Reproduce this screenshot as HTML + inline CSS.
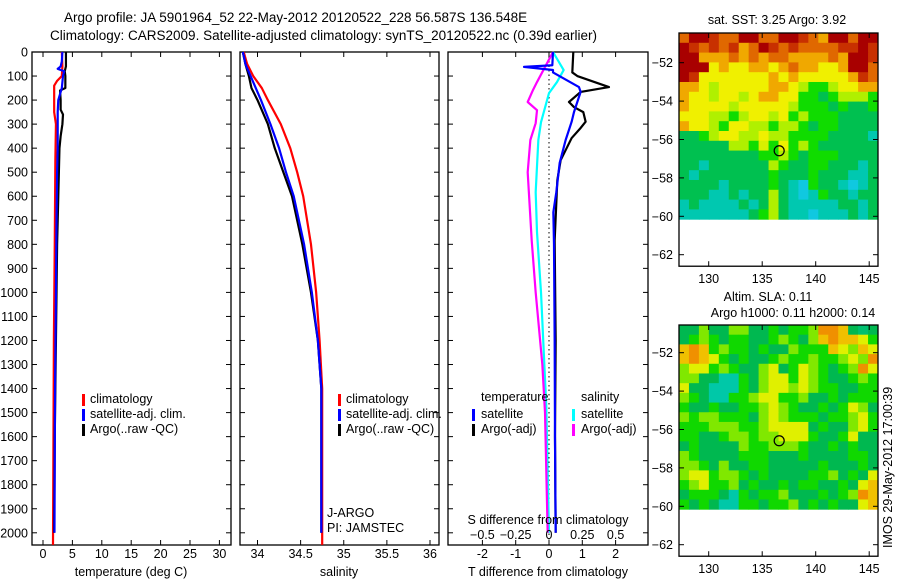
<!DOCTYPE html>
<html><head><meta charset="utf-8"><style>
body{margin:0;background:#fff;}
svg text{font-family:"Liberation Sans",sans-serif;font-size:12.5px;fill:#000;}
</style></head><body>
<svg id="fig" width="900" height="580" viewBox="0 0 900 580" xmlns="http://www.w3.org/2000/svg">
<text x="64" y="22" style="font-size:13.5px">Argo profile: JA 5901964_52 22-May-2012 20120522_228 56.587S 136.548E</text>
<text x="50" y="40" style="font-size:13.5px">Climatology: CARS2009. Satellite-adjusted climatology: synTS_20120522.nc (0.39d earlier)</text>
<g id="g"></g>
</svg>
<script>
// ---- data ----
const depthTicks=[0,100,200,300,400,500,600,700,800,900,1000,1100,1200,1300,1400,1500,1600,1700,1800,1900,2000];
const tempTicks=[0,5,10,15,20,25,30];
const salTicks=[34,34.5,35,35.5,36];
const tdiffTicks=[-2,-1,0,1,2];
const sdiffTicks=[-0.5,-0.25,0,0.25,0.5];
const argoTDepth=[0,60,80,100,150,160,200,240,260,300,350,400,500,600,700,800,1000,1200,1400,1600,1800,2000];
const argoT=[3.9,3.9,3.7,3.8,3.8,2.9,3.0,3.0,3.4,3.3,3.0,2.8,2.7,2.6,2.5,2.4,2.3,2.2,2.1,2.0,1.95,1.9];
const satTDepth=[0,40,60,70,80,100,150,200,250,300,400,500,700,1000,1400,2000];
const satT=[3.3,3.2,3.0,2.5,3.6,3.4,3.2,2.6,2.5,2.5,2.5,2.4,2.3,2.2,2.05,1.95];
const climTDepth=[0,60,100,120,140,250,300,450,800,1200,2050];
const climT=[3.2,3.3,3.2,2.4,1.9,1.9,2.2,2.1,2.0,1.85,1.7];
const salDepth=[0,50,100,150,200,300,400,500,600,800,1000,1200,1400,1600,2000];
const argoS=[33.83,33.86,33.9,33.93,34.0,34.12,34.2,34.3,34.4,34.52,34.62,34.7,34.74,34.74,34.74];
const satS=[33.83,33.86,33.92,33.98,34.04,34.15,34.25,34.33,34.42,34.54,34.63,34.7,34.74,34.74,34.74];
const climSDepth=[0,50,100,150,200,300,400,500,600,800,1000,1200,1400,1600,2050];
const climS=[33.84,33.88,33.95,34.05,34.12,34.27,34.38,34.46,34.53,34.62,34.68,34.72,34.75,34.75,34.75];
const dTDepth=[0,55,62,75,85,146,166,250,290,366,462,583,667,800,1200,1600,2000];
const satTdiff=[0.12,0.1,-0.75,0.12,0.12,0.9,0.95,0.75,0.68,0.5,0.32,0.22,0.13,0.15,0.17,0.18,0.2];
const argoTDepthD=[0,85,100,146,166,208,229,250,290,316,358,450,533,783,1200,1600,2000];
const argoTdiff=[0.73,0.7,0.85,1.8,0.95,0.6,0.75,1.03,1.1,0.95,0.68,0.35,0.25,0.17,0.2,0.18,0.2];
const dSDepth=[0,75,125,171,292,366,583,750,1000,1479,2000];
const satSdiff=[0.03,0.11,0.06,0.0,-0.06,-0.08,-0.1,-0.09,-0.06,-0.02,0.0];
const argoSDepth=[0,125,158,208,242,296,366,500,783,1000,1300,1500,2000];
const argoSdiff=[0.03,-0.09,-0.12,-0.16,-0.09,-0.1,-0.14,-0.16,-0.13,-0.1,-0.05,-0.03,-0.01];
const lonTicks=[130,135,140,145];
const latTicks=[-52,-54,-56,-58,-60,-62];
const argoLon=136.587, argoLat=-56.587;
const sstGrid=["oRRrooRRooRRroaRRoRR","RrororaoRroroooorrRr","RRaaaoaoaooaaaaoaRRr","RRRyayyaayaoaayyaRRo","Rryyyyyyyayayyyyyaro","aaylyyyyyaaylgglyyaa","ayylyylyaayyggGglllg","ayyyylyyyyylgggGgGGg","yyyllglyylyglgggGGGG","ayylgyyllgllgGggGGGG","GGglyyllyllggggGGGGc","GGGGGllgYgyglgGGGGGG","GGGGGGGGgglgGgggGGGG","GGcGGGGGGlgGGggGGGcG","GcGGGGGGGgGGGgGGGccG","GGGGcGGGGgGcbgGGcbcG","GGGccGcGGlGcbcgGGcGG","cGccccGcGlGcccccGGcG","cccccccGglGccbcccGcG"];
const slaGrid=["GGlGGllGGgGgglooaGtG","GglgGggGGglgGlaoaayg","aoaglggGgGGlgggaylay","aoaygGgGGglgglgglylo","lyyglgGGlyGgylgGgloy","llGGTTgGlyygylgGGglg","yGGTTTgGlyylylggGGgg","lgGTTgglyygglGGgGggg","gGGgGGgglylgGGgGgylG","lgllgggGlylgggGgglyg","ggglllgglyyyyGgGGlyg","ggGGgllgllyyygGGgyGG","GgGGGGlgglllgGGgGgGG","lgGGGGgggGGGgGGGGggG","llgGlGGggGGGGGgGGGgG","lyygllgGgGGGGgglGgGy","glygglGgGGgGggGGgGya","GgggGTgGgglGGGgGgloa","gGgGTTggGgglGgGgGGya"];
// ---- drawing ----
const NS="http://www.w3.org/2000/svg", G=document.getElementById('g');
function el(t,a,txt){const e=document.createElementNS(NS,t);for(const k in a)e.setAttribute(k,a[k]);if(txt!==undefined)e.textContent=txt;G.appendChild(e);return e;}
const yD=d=>52+d*0.2404;
function panel(x0,x1,name){
 const r=el('rect',{x:x0,y:52,width:x1-x0,height:493,fill:'none',stroke:'#000','stroke-width':1.3});
 
 
 depthTicks.forEach(d=>{const y=yD(d);
  el('line',{x1:x0,x2:x0+5,y1:y,y2:y,stroke:'#000'});el('line',{x1:x1-5,x2:x1,y1:y,y2:y,stroke:'#000'});
  if(x0<40){const t=el('text',{x:28,y:y+4.5,'text-anchor':'end'},String(d));
   
   }
 });
}
function xticks(vals,fx,x0,x1,labY,labels){vals.forEach((v,i)=>{const x=fx(v);
 el('line',{x1:x,x2:x,y1:545,y2:540,stroke:'#000'});el('line',{x1:x,x2:x,y1:52,y2:57,stroke:'#000'});
 if(labY){const t=el('text',{x:x,y:labY,'text-anchor':'middle'},labels?labels[i]:String(v));
  
  }});}
function line(ds,vs,fx,col,name,w){
 const p=el('polyline',{points:ds.map((d,i)=>fx(vs[i])+','+yD(d)).join(' '),fill:'none',stroke:col,'stroke-width':w||2.2,'stroke-linejoin':'round'});
 
 
}
function label(x,y,s,name,anchor){const t=el('text',{x:x,y:y,'text-anchor':anchor||'start'},s);
 
 return t;}
function legbar(x,y,col){el('rect',{x:x,y:y-10,width:3,height:12,fill:col});}
// panel 1
const fT=v=>43+v*5.88;
panel(32,231,'temperature-panel');
xticks(tempTicks,fT,32,231,558);
line(climTDepth,climT,fT,'#f00','clim-temperature-line');
line(argoTDepth,argoT,fT,'#000','argo-temperature-line');
line(satTDepth,satT,fT,'#00f','sat-temperature-line');
label(131,576,'temperature (deg C)','temperature-axis-title','middle');
legbar(82,404,'#f00');label(90,403,'climatology','legend-climatology');
legbar(82,419,'#00f');label(90,418,'satellite-adj. clim.','legend-satellite');
legbar(82,434,'#000');label(90,433,'Argo(..raw -QC)','legend-argo');
// panel 2
const fS=v=>257.5+(v-34)*86.25;
panel(240,439,'salinity-panel');
xticks(salTicks,fS,240,439,558,['34','34.5','35','35.5','36']);
line(climSDepth,climS,fS,'#f00','clim-salinity-line');
line(salDepth,argoS,fS,'#000','argo-salinity-line');
line(salDepth,satS,fS,'#00f','sat-salinity-line');
label(339,576,'salinity','salinity-axis-title','middle');
legbar(338,404,'#f00');label(346,403,'climatology','legend-climatology');
legbar(338,419,'#00f');label(346,418,'satellite-adj. clim.','legend-satellite');
legbar(338,434,'#000');label(346,433,'Argo(..raw -QC)','legend-argo');
label(327,517,'J-ARGO','j-argo-label');label(327,532,'PI: JAMSTEC','pi-label');
// panel 3
const fTd=v=>549+v*33.3, fSd=v=>549+v*133.2;
panel(448,648,'difference-panel');
xticks(tdiffTicks,fTd,448,648,558);
el('line',{x1:549,x2:549,y1:52,y2:545,stroke:'#000','stroke-dasharray':'1.5,3'});
line(dSDepth,satSdiff,fSd,'#0ff','sat-salinity-diff-line');
line(argoSDepth,argoSdiff,fSd,'#f0f','argo-salinity-diff-line');
line(argoTDepthD,argoTdiff,fTd,'#000','argo-temperature-diff-line');
line(dTDepth,satTdiff,fTd,'#00f','sat-temperature-diff-line');
sdiffTicks.forEach(v=>{const t=el('text',{x:fSd(v),y:539,'text-anchor':'middle'},String(v).replace('-','\u2212').replace(/^(\u2212?)0\./,'$10.'));
 
 });
label(548,524,'S difference from climatology','s-diff-axis-title','middle');
label(548,576,'T difference from climatology','t-diff-axis-title','middle');
label(481,401,'temperature','legend-temperature-header');
legbar(472,419,'#00f');label(481,418,'satellite','legend-t-satellite');
legbar(472,434,'#000');label(481,433,'Argo(-adj)','legend-t-argo');
label(581,401,'salinity','legend-salinity-header');
legbar(572,419,'#0ff');label(581,418,'satellite','legend-s-satellite');
legbar(572,434,'#f0f');label(581,433,'Argo(-adj)','legend-s-argo');
// maps
const pal={R:'#a80000',r:'#c83000',o:'#e06800',a:'#f0a800',y:'#f0f000',Y:'#d8f000',l:'#b0f000',g:'#10dc00',G:'#00c050',t:'#00c070',c:'#00c8b0',b:'#10c8e0',T:'#00c8a0'};
const pal2=Object.assign({},pal,{g:'#10d800',G:'#00b850',l:'#80e800',y:'#e0f000',a:'#f0c000',o:'#f09000',T:'#00c8a8'});
const fLon=v=>708.7+(v-130)*10.7;
function map(top,grid,p,name,latRef){
 const fLat=v=>latRef+(-52-v)*19.2;
 const x0=679,x1=878,yBot=fLat(-62.6),yData=fLat(-60.15);
 const rows=grid.length,cols=grid[0].length,cw=(x1-x0)/cols,ch=(yData-top)/rows;
 grid.forEach((row,i)=>{[...row].forEach((c,j)=>{el('rect',{x:x0+j*cw,y:top+i*ch,width:cw+0.5,height:ch+0.5,fill:p[c]});});});
 const fr=el('rect',{x:x0,y:top,width:x1-x0,height:yBot-top,fill:'none',stroke:'#000','stroke-width':1.3});
 
 
 lonTicks.forEach(v=>{const x=fLon(v);el('line',{x1:x,x2:x,y1:top,y2:top+5,stroke:'#000'});el('line',{x1:x,x2:x,y1:yBot,y2:yBot-5,stroke:'#000'});
  label(x,yBot+17,String(v),'lon-tick-label','middle');});
 latTicks.forEach(v=>{const y=fLat(v);el('line',{x1:x0,x2:x0+5,y1:y,y2:y,stroke:'#000'});el('line',{x1:x1-5,x2:x1,y1:y,y2:y,stroke:'#000'});
  label(673,y+4.5,String(v).replace('-','\u2212'),'lat-tick-label','end');});
 const c=el('circle',{cx:fLon(argoLon),cy:fLat(argoLat),r:5,fill:'none',stroke:'#000','stroke-width':1.2});
 
 
}
map(33,sstGrid,pal,'sst-map',62.7);
label(777,24,'sat. SST: 3.25 Argo: 3.92','sst-map-title','middle');
map(325,slaGrid,pal2,'sla-map',352.7);
label(768,301,'Altim. SLA: 0.11','sla-map-title','middle');
label(793,317,'Argo h1000: 0.11 h2000: 0.14','sla-map-subtitle','middle');
const r=label(0,0,'IMOS 29-May-2012 17:00:39','imos-timestamp');
r.setAttribute('transform','translate(892,548) rotate(-90)');
</script>
</body></html>
